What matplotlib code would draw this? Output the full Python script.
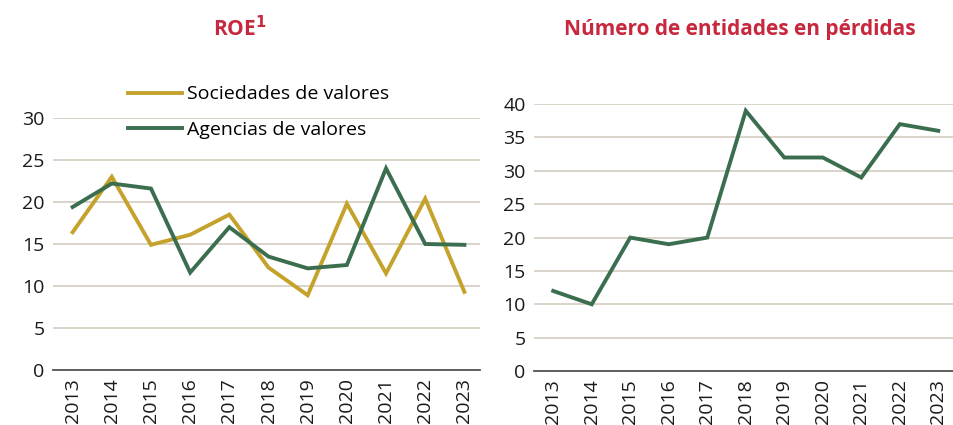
import matplotlib.pyplot as plt

plt.rcParams["font.family"] = ["Open Sans", "DejaVu Sans"]

# --------------------------------------------------
# Data
# --------------------------------------------------
years = ["2013", "2014", "2015", "2016", "2017", "2018", "2019", "2020", "2021", "2022", "2023"]
roe_sociedades = [16.4, 23.0, 14.9, 16.1, 18.5, 12.2, 8.9, 19.8, 11.5, 20.4, 9.3]
roe_agencias = [19.4, 22.2, 21.6, 11.6, 17.0, 13.5, 12.1, 12.5, 24.0, 15.0, 14.9]
entidades_perdidas = [12, 10, 20, 19, 20, 39, 32, 32, 29, 37, 36]

gold = "#C4A22C"
green = "#3B6E4F"
red = "#C8283E"
grid_col = "#D3CCC0"

fig = plt.figure(figsize=(9.54, 4.25), dpi=100)
ax1 = fig.add_axes([0.0556, 0.1294, 0.4476, 0.593])
ax2 = fig.add_axes([0.5597, 0.127, 0.440, 0.628])

x = range(len(years))


def style_axis(ax, ymax):
    ax.set_ylim(0, ymax)
    ax.set_xlim(-0.5, 10.4)
    ax.set_yticks(range(0, ymax + 1, 5))
    ax.set_xticks(list(x))
    ax.set_xticklabels(years, rotation=90)
    ax.grid(axis="y", color=grid_col, linewidth=1.2)
    ax.set_axisbelow(True)
    for s in ["top", "right", "left"]:
        ax.spines[s].set_visible(False)
    ax.spines["bottom"].set_color("#555555")
    ax.spines["bottom"].set_linewidth(1.3)
    ax.tick_params(length=0, labelsize=14, pad=6, colors="#1a1a1a")


# --------------------------------------------------
# ROE
# --------------------------------------------------
ax1.plot(x, roe_sociedades, color=gold, lw=2.8, label="Sociedades de valores", solid_joinstyle="miter")
ax1.plot(x, roe_agencias, color=green, lw=2.8, label="Agencias de valores", solid_joinstyle="miter")
style_axis(ax1, 30)
ax1.legend(loc="upper left", bbox_to_anchor=(0.157, 1.16), frameon=False,
           fontsize=14, handlelength=2.8, labelspacing=0.9, handletextpad=0.25,
           borderaxespad=0)

# --------------------------------------------------
# Número de entidades en pérdidas
# --------------------------------------------------
ax2.plot(x, entidades_perdidas, color=green, lw=2.8, solid_joinstyle="miter")
style_axis(ax2, 40)

fig.text(240 / 954, 1 - 29 / 425, "ROE$^{\\mathbf{1}}$", color=red, fontsize=15,
         fontweight="bold", ha="center", va="center")
fig.text(740 / 954, 1 - 29 / 425, "Número de entidades en pérdidas", color=red,
         fontsize=15, fontweight="bold", ha="center", va="center")

fig.savefig("out.png", dpi=100)
